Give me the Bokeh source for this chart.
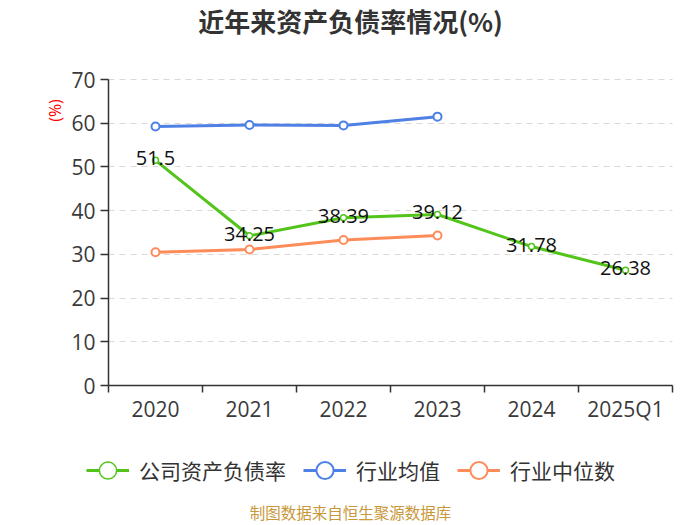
import math
from bokeh.plotting import figure
from bokeh.models import (Range1d, FixedTicker, Legend, LegendItem, Title, Label, Grid,
                          ColumnDataSource, CustomJSTickFormatter)
from bokeh.embed import file_html
from bokeh.resources import INLINE
from bokeh.core.properties import value

# ---- data ----
categories = ["2020", "2021", "2022", "2023", "2024", "2025Q1"]
company = [51.5, 34.25, 38.39, 39.12, 31.78, 26.38]
company_labels = ["51.5", "34.25", "38.39", "39.12", "31.78", "26.38"]
industry_avg = [59.25, 59.6, 59.5, 61.5]
industry_median = [30.5, 31.1, 33.3, 34.3]
y_ticks = [0, 10, 20, 30, 40, 50, 60, 70]
y_max = 70

series_names = ["公司资产负债率", "行业均值", "行业中位数"]
title_text = "近年来资产负债率情况(%)"
unit_text = "(%)"
footer_text = "制图数据来自恒生聚源数据库"

GREEN = "#52c41a"
BLUE = "#4e80e6"
ORANGE = "#fd8c5b"
CJK = "Noto Sans CJK SC"
NUM = "Open Sans"

# ---- layout (pixels) ----
W, H = 700, 525
FRAME_L, FRAME_R = 108, 672            # pixel columns of the axis span
Y_TOP_PX, Y_ZERO_PX = 79, 385          # pixel rows of y=70 and y=0
KX = (FRAME_R - FRAME_L) / len(categories)
KY = (Y_ZERO_PX - Y_TOP_PX) / y_max

HAS_CB = "cross_bounds" in Grid.properties()
plot_left = 0 if HAS_CB else FRAME_L
plot_right = W if HAS_CB else FRAME_R


def dx(px):
    return (px - FRAME_L) / KX


def dy(py):
    return (Y_ZERO_PX - py) / KY


xs = [i + 0.5 for i in range(len(categories))]

src_company = ColumnDataSource(dict(x=xs, y=company, label=company_labels))
src_avg = ColumnDataSource(dict(x=xs[:len(industry_avg)], y=industry_avg))
src_med = ColumnDataSource(dict(x=xs[:len(industry_median)], y=industry_median))

p = figure(width=W, height=H, output_backend="svg", toolbar_location=None,
           x_range=Range1d(dx(plot_left), dx(plot_right)), y_range=Range1d(dy(H), dy(0)),
           min_border_left=plot_left, min_border_right=W - plot_right,
           min_border_top=0, min_border_bottom=0)
p.title.text = ""
p.title.visible = False
p.outline_line_color = None
p.background_fill_color = "white"
p.border_fill_color = "white"

# grid
p.xgrid.visible = False
p.ygrid.grid_line_color = "#d9d9d9"
p.ygrid.grid_line_dash = "6 5"
p.ygrid.grid_line_width = 1
if HAS_CB:
    p.ygrid[0].cross_bounds = (0, len(categories))

# x axis drawn at y = 0
xa = p.xaxis[0]
xa.fixed_location = 0
xa.bounds = (0, len(categories))
xa.ticker = FixedTicker(ticks=xs, minor_ticks=list(range(len(categories) + 1)))
xa.formatter = CustomJSTickFormatter(args=dict(labels=categories),
                                     code="return labels[Math.floor(tick)] || '';")
xa.axis_line_color = "#333333"
xa.axis_line_width = 1.5
xa.major_tick_line_color = None
xa.major_tick_out = 7
xa.major_tick_in = 0
xa.minor_tick_out = 7
xa.minor_tick_in = 0
xa.minor_tick_line_color = "#333333"
xa.minor_tick_line_width = 1.5
xa.major_label_standoff = 2
xa.major_label_text_font = NUM
xa.major_label_text_font_size = "21px"
xa.major_label_text_color = "#3a3a3a"

# y axis
ya = p.yaxis[0]
if HAS_CB:
    ya.fixed_location = 0
ya.bounds = (0, y_max)
ya.ticker = FixedTicker(ticks=y_ticks)
ya.axis_line_color = "#333333"
ya.axis_line_width = 1.5
ya.major_tick_line_color = "#333333"
ya.major_tick_line_width = 1.5
ya.major_tick_out = 8
ya.major_tick_in = 0
ya.minor_tick_line_color = None
ya.major_label_standoff = 5
ya.major_label_text_font = NUM
ya.major_label_text_font_size = "21px"
ya.major_label_text_color = "#3a3a3a"

# series
l_avg = p.line("x", "y", source=src_avg, line_color=BLUE, line_width=3)
s_avg = p.scatter("x", "y", source=src_avg, size=8, fill_color="white",
                  line_color=BLUE, line_width=2)
l_med = p.line("x", "y", source=src_med, line_color=ORANGE, line_width=3)
s_med = p.scatter("x", "y", source=src_med, size=8, fill_color="white",
                  line_color=ORANGE, line_width=2)
l_com = p.line("x", "y", source=src_company, line_color=GREEN, line_width=3)
s_com = p.scatter("x", "y", source=src_company, size=6, fill_color="white",
                  line_color=GREEN, line_width=1.5)
p.text("x", "y", text="label", source=src_company, text_align="center",
       text_baseline="middle", y_offset=-2, text_font=value(NUM),
       text_font_size="20px", text_color="#111111")

# unit label
if HAS_CB:
    p.add_layout(Label(x=dx(54), y=dy(110), text=unit_text, angle=math.pi / 2,
                       text_align="center", text_baseline="middle", text_font=NUM,
                       text_font_size="16px", text_color="#ff0000"))
else:
    p.add_layout(Title(text=unit_text, align="right", offset=98, standoff=8,
                       text_font=NUM, text_font_size="16px", text_font_style="normal",
                       text_color="#ff0000"), "left")

# chart title and footer
p.add_layout(Label(x=dx(350), y=dy(20), text=title_text, text_align="center",
                   text_baseline="middle", text_font=CJK, text_font_size="26px",
                   text_font_style="bold", text_color="#333333"))
p.add_layout(Label(x=dx(350), y=dy(511), text=footer_text, text_align="center",
                   text_baseline="middle", text_font=CJK, text_font_size="15.5px",
                   text_color="#c8983a"))

# legend
legend = Legend(items=[
    LegendItem(label=series_names[0], renderers=[l_com, s_com]),
    LegendItem(label=series_names[1], renderers=[l_avg, s_avg]),
    LegendItem(label=series_names[2], renderers=[l_med, s_med]),
], orientation="horizontal", location=(max(86 - plot_left, 0), 31),
    glyph_width=43, glyph_height=48, label_standoff=10, spacing=17,
    padding=0, margin=0, border_line_color=None, background_fill_alpha=0,
    label_text_font=CJK, label_text_font_size="21px", label_text_color="#333333")
p.add_layout(legend)

open("out.html", "w").write(file_html(p, INLINE))
